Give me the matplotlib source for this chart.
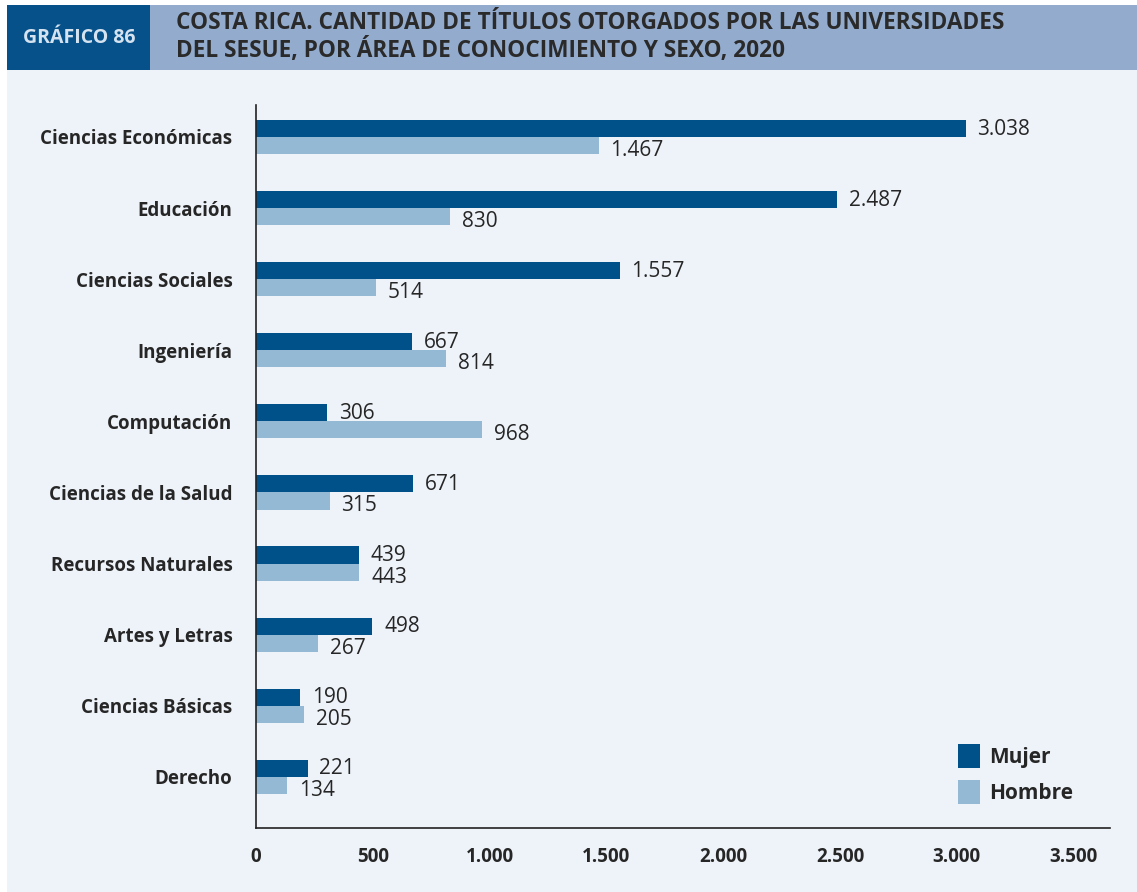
import matplotlib
matplotlib.use('Agg')
import matplotlib.pyplot as plt
from matplotlib.patches import Rectangle
import numpy as np

plt.rcParams['font.family'] = ['Open Sans', 'DejaVu Sans']

areas = ['Ciencias Económicas', 'Educación', 'Ciencias Sociales', 'Ingeniería', 'Computación',
         'Ciencias de la Salud', 'Recursos Naturales', 'Artes y Letras', 'Ciencias Básicas', 'Derecho']
mujer = [3038, 2487, 1557, 667, 306, 671, 439, 498, 190, 221]
hombre = [1467, 830, 514, 814, 968, 315, 443, 267, 205, 134]
xticks = [0, 500, 1000, 1500, 2000, 2500, 3000, 3500]

DARK, LIGHT, BG, INK = '#00518A', '#93B9D5', '#EEF3FA', '#262626'
HEAD_D, HEAD_L = '#06518A', '#93ACCE'


def fmt(v):
    return '{:,}'.format(v).replace(',', '.')


W, H = 1137, 892
fig = plt.figure(figsize=(W / 100, H / 100), dpi=100)
fig.patch.set_facecolor('white')

# fondo y cabecera
fig.add_artist(Rectangle((7 / W, 0), 1 - 7 / W, 1 - 70 / H, transform=fig.transFigure,
                         facecolor=BG, edgecolor='none', zorder=0))
fig.add_artist(Rectangle((7 / W, 1 - 70 / H), 143 / W, 65 / H, transform=fig.transFigure,
                         facecolor=HEAD_D, edgecolor='none', zorder=0))
fig.add_artist(Rectangle((150 / W, 1 - 70 / H), 1 - 150 / W, 65 / H, transform=fig.transFigure,
                         facecolor=HEAD_L, edgecolor='none', zorder=0))
fig.text(79 / W, 1 - 38 / H, 'GRÁFICO 86', ha='center', va='center', fontsize=14,
         weight='bold', color='#D5E3F0')
fig.text(176 / W, 1 - 37 / H, 'COSTA RICA. CANTIDAD DE TÍTULOS OTORGADOS POR LAS UNIVERSIDADES\n'
         'DEL SESUE, POR ÁREA DE CONOCIMIENTO Y SEXO, 2020', ha='left', va='center',
         fontsize=16.3, weight='bold', color='#2A2A2A', linespacing=1.13)

ax = fig.add_axes([256 / W, 1 - 828 / H, (1110 - 256) / W, (828 - 105) / H])
ax.set_facecolor('none')
y = np.arange(len(areas))
h = 0.24
ax.barh(y - h / 2, mujer, height=h, color=DARK, label='Mujer')
ax.barh(y + h / 2, hombre, height=h, color=LIGHT, label='Hombre')
for yi, m, w in zip(y, mujer, hombre):
    ax.text(m + 50, yi - h / 2 + 0.01, fmt(m), va='center', ha='left', fontsize=15, color=INK)
    ax.text(w + 50, yi + h / 2 + 0.07, fmt(w), va='center', ha='left', fontsize=15, color=INK)

ax.set_xlim(0, 3656)
ax.set_ylim(9.72, -0.45)
ax.set_yticks(y)
ax.set_yticklabels(areas, fontsize=13.5, weight='bold', color=INK)
ax.set_xticks(xticks)
ax.set_xticklabels([fmt(t) for t in xticks], fontsize=13.5, weight='bold', color=INK)
ax.tick_params(length=0)
ax.tick_params(axis='y', pad=17)
ax.tick_params(axis='x', pad=14)
for s in ['top', 'right']:
    ax.spines[s].set_visible(False)
for s in ['left', 'bottom']:
    ax.spines[s].set_color('#222222')
    ax.spines[s].set_linewidth(1.2)

leg = ax.legend(loc='upper left', bbox_to_anchor=(0.81, 0.13), frameon=False,
                prop={'size': 15, 'weight': 'bold'}, handlelength=1.05, handleheight=1.4,
                handletextpad=0.45, labelspacing=0.55, borderpad=0)
for t in leg.get_texts():
    t.set_color(INK)

fig.savefig('out.png', dpi=100)
